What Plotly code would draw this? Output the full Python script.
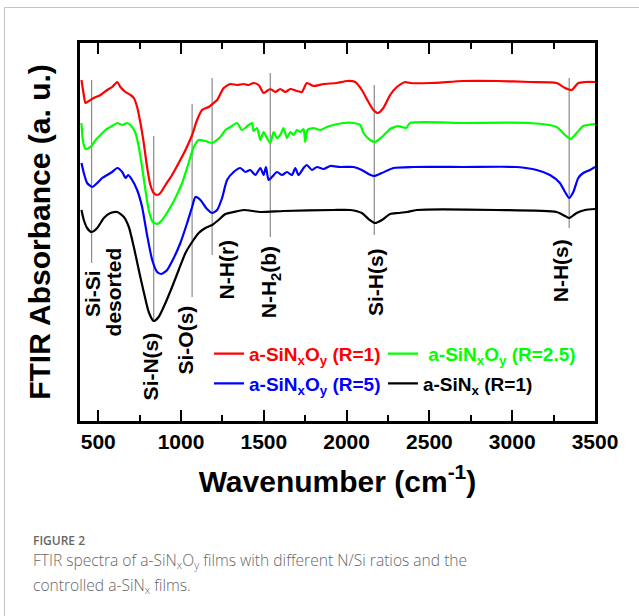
import plotly.graph_objects as go

# ---------------- data ----------------
red_wn = [399, 413, 423, 443, 473, 514, 554, 584, 615, 634, 665, 695, 715, 735, 755, 775, 795, 815, 835, 856,
          876, 906, 946, 986, 1027, 1067, 1097, 1127, 1167, 1197, 1218, 1258, 1298, 1338, 1378, 1408, 1438, 1469,
          1499, 1519, 1539, 1569, 1599, 1630, 1660, 1700, 1730, 1760, 1800, 1861, 1941, 2002, 2052, 2092, 2132,
          2162, 2189, 2222, 2263, 2303, 2353, 2383, 2504, 2705, 2906, 3107, 3268, 3319, 3359, 3399, 3440, 3500]
red_abs = [341, 326, 318, 320, 323, 326, 331, 334, 339, 334, 329, 326, 323, 314, 298, 278, 254, 236, 228, 226,
           228, 236, 246, 258, 271, 286, 301, 311, 314, 318, 321, 333, 337, 336, 337, 336, 338, 336,
           328, 330, 332, 329, 332, 329, 332, 330, 329, 338, 335, 337, 338, 340, 339, 331, 319,
           311, 308, 313, 326, 334, 339, 338, 338, 340, 340, 339, 338, 333, 331, 338, 339, 339]

green_wn = [399, 407, 423, 443, 464, 484, 514, 544, 584, 615, 645, 675, 705, 725, 745, 765, 785, 805, 829, 856,
            886, 926, 966, 1007, 1046, 1077, 1107, 1147, 1188, 1238, 1268, 1298, 1338, 1368, 1408, 1429, 1438,
            1459, 1479, 1499, 1519, 1539, 1559, 1579, 1599, 1619, 1640, 1660, 1680, 1700, 1720, 1740, 1750,
            1764, 1800, 1841, 1881, 1921, 1981, 2042, 2082, 2102, 2142, 2172, 2213, 2263, 2313, 2333, 2360,
            2383, 2705, 3107, 3268, 3319, 3353, 3389, 3429, 3500]
green_abs = [298, 281, 272, 273, 276, 281, 286, 291, 295, 298, 296, 298, 294, 288, 274, 254, 231, 211, 199, 197,
             201, 211, 223, 238, 258, 274, 281, 280, 278, 284, 291, 294, 298, 291, 296, 298, 290,
             293, 281, 289, 283, 278, 289, 283, 286, 293, 283, 289, 286, 291, 289, 292, 279,
             291, 293, 291, 294, 296, 298, 298, 296, 288, 281, 279, 284, 292, 295, 294, 293,
             298, 298, 298, 294, 286, 282, 288, 295, 297]

blue_wn = [399, 413, 433, 464, 494, 524, 554, 584, 615, 645, 665, 681, 705, 735, 765, 795, 826, 856, 882, 916,
           956, 996, 1037, 1067, 1087, 1117, 1157, 1188, 1218, 1248, 1278, 1318, 1358, 1388, 1418, 1449, 1479,
           1499, 1513, 1529, 1549, 1580, 1610, 1640, 1670, 1690, 1710, 1740, 1760, 1791, 1821, 1861, 1901,
           1961, 2042, 2092, 2132, 2167, 2213, 2283, 2404, 2705, 3027, 3148, 3228, 3288, 3319, 3344, 3369,
           3399, 3429, 3470, 3500]
blue_abs = [258, 248, 238, 234, 238, 243, 246, 249, 253, 249, 243, 246, 241, 231, 214, 186, 161, 149, 147, 151,
            163, 178, 198, 214, 224, 221, 212, 208, 211, 223, 241, 249, 253, 249, 251, 246, 253,
            246, 254, 241, 244, 249, 246, 249, 246, 253, 246, 253, 256, 251, 254, 252, 255,
            254, 254, 251, 247, 245, 248, 253, 254, 254, 254, 251, 246, 238, 229, 223, 229,
            243, 248, 251, 254]

black_wn = [399, 413, 433, 460, 494, 534, 574, 615, 655, 685, 715, 745, 775, 805, 835, 865, 906, 946, 986, 1027,
            1067, 1107, 1147, 1188, 1227, 1268, 1318, 1378, 1479, 1619, 1921, 2022, 2092, 2132, 2172, 2213,
            2263, 2313, 2363, 2424, 2906, 3268, 3319, 3344, 3389, 3440, 3500]
black_abs = [211, 201, 193, 189, 193, 203, 208, 209, 204, 194, 174, 151, 129, 109, 100, 104, 118, 134, 151, 168,
             179, 188, 193, 196, 201, 207, 209, 211, 209, 210, 211, 211, 208, 202, 198, 201,
             207, 208, 209, 211, 211, 209, 205, 203, 208, 211, 212]

series_names = ["a-SiN<sub>x</sub>O<sub>y</sub> (R=1)", "\u00a0a-SiN<sub>x</sub>O<sub>y</sub> (R=2.5)",
                "a-SiN<sub>x</sub>O<sub>y</sub> (R=5)", "a-SiN<sub>x</sub> (R=1)"]

# band assignment markers (wavenumber, lower and upper extent in a.u.)
band_wn = [460, 835, 1067, 1188, 1539, 2167, 3344]
band_low = [158, 99, 124, 166, 184, 186, 193]
band_high = [341, 285, 317, 343, 348, 336, 343]

label_text = ["Si-Si", "desorted", "Si-N(s)", "Si-O(s)", "N-H(r)", "N-H<sub>2</sub>(b)", "Si-H(s)", "N-H(s)"]
label_wn = [463, 592, 815, 1027, 1274, 1539, 2172, 3290]
label_abs = [127, 129, 55, 81, 151, 139, 139, 150]

x_ticks = [500, 1000, 1500, 2000, 2500, 3000, 3500]

# ---------------- figure ----------------
FONT = "Liberation Sans, Arial, sans-serif"
colors = ["#ff0000", "#00ff00", "#0000ff", "#000000"]
legend_ids = ["legend", "legend2", "legend", "legend2"]
all_wn = [red_wn, green_wn, blue_wn, black_wn]
all_abs = [red_abs, green_abs, blue_abs, black_abs]

fig = go.Figure()

# band marker lines
bx, by = [], []
for w, lo, hi in zip(band_wn, band_low, band_high):
    bx += [w, w, None]
    by += [lo, hi, None]
fig.add_trace(go.Scatter(x=bx, y=by, mode="lines", line=dict(color="#8a8a8a", width=1.2),
                         showlegend=False, hoverinfo="skip"))

for i, (wn, ab, nm, c, lg) in enumerate(zip(all_wn, all_abs, series_names, colors, legend_ids)):
    fig.add_trace(go.Scatter(
        x=wn, y=ab, mode="lines", legend=lg, legendgroup=f"g{i}",
        name=f'<span style="color:{c}">{nm}</span>',
        line=dict(color=c, width=2.2, shape="spline", smoothing=0.6),
    ))

annotations = []
for t, w, a in zip(label_text, label_wn, label_abs):
    annotations.append(dict(x=w, y=a, xref="x", yref="y", text=t, textangle=-90, showarrow=False,
                            font=dict(family=FONT, size=21, color="black", weight="bold"),
                            xanchor="center", yanchor="middle"))

CAP = "Open Sans, sans-serif"
annotations += [
    dict(x=-0.0957, y=-0.3150, xref="paper", yref="paper", xanchor="left", yanchor="middle",
         text="FIGURE 2", showarrow=False, font=dict(family=CAP, size=12, color="#666666", weight=600)),
    dict(x=-0.0957, y=-0.3690, xref="paper", yref="paper", xanchor="left", yanchor="middle",
         text="FTIR spectra of a-SiN<sub>x</sub>O<sub>y</sub> films with different N/Si ratios and the",
         showarrow=False, font=dict(family=CAP, size=15.6, color="#666666", weight=300)),
    dict(x=-0.0957, y=-0.4339, xref="paper", yref="paper", xanchor="left", yanchor="middle",
         text="controlled a-SiN<sub>x</sub> films.",
         showarrow=False, font=dict(family=CAP, size=15.6, color="#666666", weight=300)),
]

legend_style = dict(orientation="v", xanchor="left", y=0.228, yanchor="top", bgcolor="rgba(0,0,0,0)",
                    font=dict(family=FONT, size=19, weight="bold"), itemwidth=30, tracegroupgap=2)

fig.update_layout(
    width=639, height=616,
    margin=dict(l=80, r=44, t=43, b=195),
    paper_bgcolor="white", plot_bgcolor="white",
    font=dict(family=FONT, color="black"),
    showlegend=True,
    legend=dict(x=0.2505, **legend_style),
    legend2=dict(x=0.5883, **legend_style),
    annotations=annotations,
    shapes=[dict(type="rect", xref="paper", yref="paper", x0=-0.1466, y0=1.0939, x1=1.6, y1=-1.0,
                 line=dict(color="#c4c4c4", width=1), fillcolor="rgba(0,0,0,0)", layer="below")],
)

fig.update_xaxes(
    range=[390, 3500], tickvals=x_ticks, ticktext=[str(v) for v in x_ticks],
    showline=True, linecolor="black", linewidth=3, mirror="allticks",
    ticks="inside", ticklen=11, tickwidth=2, tickcolor="black",
    minor=dict(dtick=250, tick0=500, ticks="inside", ticklen=6, tickwidth=2, tickcolor="black"),
    showgrid=False, zeroline=False,
    tickfont=dict(family=FONT, size=21, color="black", weight="bold"),
    title=dict(text="Wavenumber (cm<sup>-1</sup>)", standoff=19,
               font=dict(family=FONT, size=30, color="black", weight="bold")),
)
fig.update_yaxes(
    range=[0, 378], showline=True, linecolor="black", linewidth=3, mirror=True,
    ticks="", showticklabels=False, showgrid=False, zeroline=False,
    title=dict(text="FTIR Absorbance (a. u.)", standoff=18,
               font=dict(family=FONT, size=30, color="black", weight="bold")),
)

fig.write_html("out.html", config={"displayModeBar": False},
               post_script="document.body.style.margin='0px';")
